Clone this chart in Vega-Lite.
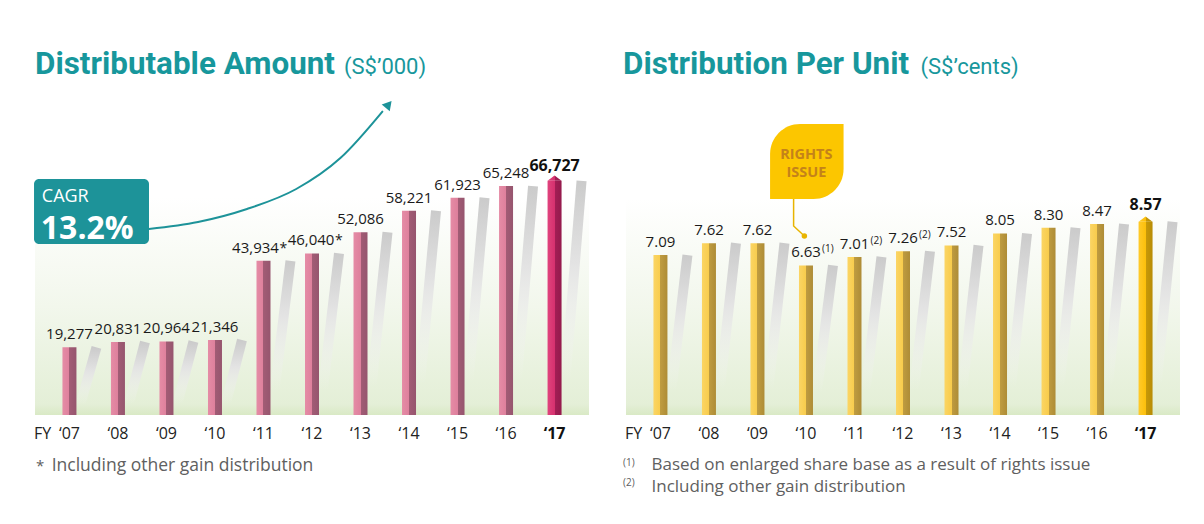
{
  "$schema": "https://vega.github.io/schema/vega-lite/v6.json",
  "background": "white",
  "padding": {"left": 30, "top": 49, "right": 0, "bottom": 8},
  "bounds": "flush",
  "spacing": 27,
  "config": {"view": {"stroke": null}, "text": {"font": "Open Sans"}},
  "datasets": {
    "amount": [
      {"fy": 2007, "label": "‘07", "value": 19277, "note": ""},
      {"fy": 2008, "label": "‘08", "value": 20831, "note": ""},
      {"fy": 2009, "label": "‘09", "value": 20964, "note": ""},
      {"fy": 2010, "label": "‘10", "value": 21346, "note": ""},
      {"fy": 2011, "label": "‘11", "value": 43934, "note": "*"},
      {"fy": 2012, "label": "‘12", "value": 46040, "note": "*"},
      {"fy": 2013, "label": "‘13", "value": 52086, "note": ""},
      {"fy": 2014, "label": "‘14", "value": 58221, "note": ""},
      {"fy": 2015, "label": "‘15", "value": 61923, "note": ""},
      {"fy": 2016, "label": "‘16", "value": 65248, "note": ""},
      {"fy": 2017, "label": "‘17", "value": 66727, "note": ""}
    ],
    "dpu": [
      {"fy": 2007, "label": "‘07", "value": 7.09, "note": ""},
      {"fy": 2008, "label": "‘08", "value": 7.62, "note": ""},
      {"fy": 2009, "label": "‘09", "value": 7.62, "note": ""},
      {"fy": 2010, "label": "‘10", "value": 6.63, "note": "(1)"},
      {"fy": 2011, "label": "‘11", "value": 7.01, "note": "(2)"},
      {"fy": 2012, "label": "‘12", "value": 7.26, "note": "(2)"},
      {"fy": 2013, "label": "‘13", "value": 7.52, "note": ""},
      {"fy": 2014, "label": "‘14", "value": 8.05, "note": ""},
      {"fy": 2015, "label": "‘15", "value": 8.30, "note": ""},
      {"fy": 2016, "label": "‘16", "value": 8.47, "note": ""},
      {"fy": 2017, "label": "‘17", "value": 8.57, "note": ""}
    ]
  },
  "hconcat": [
    {
      "width": 564,
      "height": 304,
      "data": {"name": "amount"},
      "layer": [
        {
          "data": {"values": [{}]},
          "mark": {"type": "rect", "fill": {"gradient": "linear", "x1": 0, "y1": 1, "x2": 0, "y2": 0, "stops": [{"offset": 0, "color": "#d9e9c5"}, {"offset": 0.05, "color": "#e4efd7"}, {"offset": 0.5, "color": "#f2f7ec"}, {"offset": 1, "color": "#ffffff"}]}},
          "encoding": {
            "x": {"datum": 2006.29, "type": "quantitative", "scale": {"domain": [2006.29, 2017.71], "nice": false, "zero": false}, "axis": null},
            "x2": {"datum": 2017.71},
            "y": {"datum": 0, "type": "quantitative", "scale": {"domain": [0, 86640], "nice": false}, "axis": null},
            "y2": {"datum": 62000}
          }
        },
        {
          "mark": {"type": "rule", "xOffset": 27, "x2Offset": 8, "strokeWidth": 10, "strokeCap": "butt", "stroke": {"gradient": "linear", "x1": 0, "y1": 0, "x2": 0, "y2": 1, "stops": [{"offset": 0, "color": "#cbcbcb"}, {"offset": 0.35, "color": "#e3e3e3"}, {"offset": 0.85, "color": "rgba(245,245,245,0)"}]}},
          "encoding": {
            "x": {"field": "fy", "type": "quantitative", "axis": null},
            "x2": {"field": "fy"},
            "y": {"field": "value", "type": "quantitative", "axis": null},
            "y2": {"datum": 0}
          }
        },
        {
          "transform": [{"filter": "datum.fy != 2017"}],
          "mark": {"type": "bar", "orient": "vertical", "width": 14, "fill": {"gradient": "linear", "x1": 0, "y1": 0, "x2": 1, "y2": 0, "stops": [{"offset": 0, "color": "#e58ca6"}, {"offset": 0.5, "color": "#de809c"}, {"offset": 0.5, "color": "#a25c75"}, {"offset": 1, "color": "#96556e"}]}},
          "encoding": {
            "x": {"field": "fy", "type": "quantitative", "axis": null},
            "y": {"field": "value", "type": "quantitative", "axis": null}
          }
        },
        {
          "transform": [{"filter": "datum.fy == 2017"}],
          "mark": {"type": "bar", "orient": "vertical", "width": 14, "fill": {"gradient": "linear", "x1": 0, "y1": 0, "x2": 1, "y2": 0, "stops": [{"offset": 0, "color": "#e0437d"}, {"offset": 0.5, "color": "#d6316f"}, {"offset": 0.5, "color": "#a41e56"}, {"offset": 1, "color": "#941a4c"}]}},
          "encoding": {
            "x": {"field": "fy", "type": "quantitative", "axis": null},
            "y": {"field": "value", "type": "quantitative", "axis": null}
          }
        },
        {
          "transform": [{"filter": "datum.fy == 2017"}],
          "mark": {"type": "point", "shape": "M-1,0L0,-0.75L1,0Z", "size": 196, "filled": true, "opacity": 1, "strokeWidth": 0, "fill": {"gradient": "linear", "x1": 0, "y1": 0, "x2": 1, "y2": 0, "stops": [{"offset": 0, "color": "#e0437d"}, {"offset": 0.5, "color": "#d6316f"}, {"offset": 0.5, "color": "#a41e56"}, {"offset": 1, "color": "#941a4c"}]}},
          "encoding": {
            "x": {"field": "fy", "type": "quantitative", "axis": null},
            "y": {"field": "value", "type": "quantitative", "axis": null}
          }
        },
        {
          "transform": [{"filter": "datum.fy != 2017 && datum.note == ''"}],
          "mark": {"type": "text", "baseline": "alphabetic", "dy": -8, "fontSize": 15, "color": "#1a1a1a"},
          "encoding": {
            "x": {"field": "fy", "type": "quantitative", "axis": null},
            "y": {"field": "value", "type": "quantitative", "axis": null},
            "text": {"field": "value", "type": "quantitative", "format": ","}
          }
        },
        {
          "transform": [{"filter": "datum.fy == 2011"}],
          "mark": {"type": "text", "baseline": "alphabetic", "dx": -8, "dy": -8, "fontSize": 15, "color": "#1a1a1a"},
          "encoding": {
            "x": {"field": "fy", "type": "quantitative", "axis": null},
            "y": {"field": "value", "type": "quantitative", "axis": null},
            "text": {"field": "value", "type": "quantitative", "format": ","}
          }
        },
        {
          "transform": [{"filter": "datum.fy == 2011"}],
          "mark": {"type": "text", "align": "left", "baseline": "alphabetic", "dx": 16, "dy": -8, "fontSize": 14, "color": "#1a1a1a"},
          "encoding": {
            "x": {"field": "fy", "type": "quantitative", "axis": null},
            "y": {"field": "value", "type": "quantitative", "axis": null},
            "text": {"field": "note", "type": "nominal"}
          }
        },
        {
          "transform": [{"filter": "datum.fy == 2012"}],
          "mark": {"type": "text", "baseline": "alphabetic", "dx": -1, "dy": -8, "fontSize": 15, "color": "#1a1a1a"},
          "encoding": {
            "x": {"field": "fy", "type": "quantitative", "axis": null},
            "y": {"field": "value", "type": "quantitative", "axis": null},
            "text": {"field": "value", "type": "quantitative", "format": ","}
          }
        },
        {
          "transform": [{"filter": "datum.fy == 2012"}],
          "mark": {"type": "text", "align": "left", "baseline": "alphabetic", "dx": 23, "dy": -8, "fontSize": 14, "color": "#1a1a1a"},
          "encoding": {
            "x": {"field": "fy", "type": "quantitative", "axis": null},
            "y": {"field": "value", "type": "quantitative", "axis": null},
            "text": {"field": "note", "type": "nominal"}
          }
        },
        {
          "transform": [{"filter": "datum.fy == 2017"}],
          "mark": {"type": "text", "baseline": "alphabetic", "dy": -10, "fontSize": 16, "fontWeight": "bold", "color": "#111111"},
          "encoding": {
            "x": {"field": "fy", "type": "quantitative", "axis": null},
            "y": {"field": "value", "type": "quantitative", "axis": null},
            "text": {"field": "value", "type": "quantitative", "format": ","}
          }
        },
        {
          "transform": [{"filter": "datum.fy != 2017"}],
          "mark": {"type": "text", "baseline": "alphabetic", "fontSize": 16, "color": "#222222"},
          "encoding": {
            "x": {"field": "fy", "type": "quantitative", "axis": null},
            "y": {"datum": -6755, "type": "quantitative", "axis": null},
            "text": {"field": "label", "type": "nominal"}
          }
        },
        {
          "transform": [{"filter": "datum.fy == 2017"}],
          "mark": {"type": "text", "baseline": "alphabetic", "fontSize": 16, "fontWeight": "bold", "color": "#111111"},
          "encoding": {
            "x": {"field": "fy", "type": "quantitative", "axis": null},
            "y": {"datum": -6755, "type": "quantitative", "axis": null},
            "text": {"field": "label", "type": "nominal"}
          }
        },
        {
          "data": {"values": [{}]},
          "mark": {"type": "text", "text": "FY", "align": "left", "baseline": "alphabetic", "fontSize": 16, "color": "#222222"},
          "encoding": {
            "x": {"datum": 2006.27, "type": "quantitative", "axis": null},
            "y": {"datum": -6755, "type": "quantitative", "axis": null}
          }
        },
        {
          "data": {"values": [{}]},
          "mark": {"type": "rect", "fill": "#1d9399", "cornerRadius": 5},
          "encoding": {
            "x": {"datum": 2006.27, "type": "quantitative", "axis": null},
            "x2": {"datum": 2008.64},
            "y": {"datum": 48735, "type": "quantitative", "axis": null},
            "y2": {"datum": 67260}
          }
        },
        {
          "data": {"values": [{}]},
          "mark": {"type": "text", "text": "CAGR", "align": "left", "baseline": "alphabetic", "fontSize": 18, "color": "white"},
          "encoding": {
            "x": {"datum": 2006.43, "type": "quantitative", "axis": null},
            "y": {"datum": 60700, "type": "quantitative", "axis": null}
          }
        },
        {
          "data": {"values": [{}]},
          "mark": {"type": "text", "text": "13.2%", "align": "left", "baseline": "alphabetic", "fontSize": 32, "fontWeight": "bold", "color": "white"},
          "encoding": {
            "x": {"datum": 2006.41, "type": "quantitative", "axis": null},
            "y": {"datum": 50160, "type": "quantitative", "axis": null}
          }
        },
        {
          "data": {"values": [
            {"fy": 2008.638, "value": 53010},
            {"fy": 2009.65, "value": 55005},
            {"fy": 2010.66, "value": 58710},
            {"fy": 2011.675, "value": 64410},
            {"fy": 2012.585, "value": 73245},
            {"fy": 2013.46, "value": 86640}
          ]},
          "mark": {"type": "line", "interpolate": "monotone", "color": "#1d9399", "strokeWidth": 2},
          "encoding": {
            "x": {"field": "fy", "type": "quantitative", "axis": null},
            "y": {"field": "value", "type": "quantitative", "axis": null}
          }
        },
        {
          "data": {"values": [{}]},
          "mark": {"type": "point", "shape": "triangle-up", "angle": 40, "size": 110, "filled": true, "opacity": 1, "color": "#1d9399"},
          "encoding": {
            "x": {"datum": 2013.58, "type": "quantitative", "axis": null},
            "y": {"datum": 88500, "type": "quantitative", "axis": null}
          }
        },
        {
          "data": {"values": [{}]},
          "mark": {"type": "text", "text": "Distributable Amount", "align": "left", "baseline": "alphabetic", "font": "Roboto", "fontSize": 31.4, "fontWeight": "bold", "color": "#17979c"},
          "encoding": {
            "x": {"datum": 2006.29, "type": "quantitative", "axis": null},
            "y": {"datum": 97185, "type": "quantitative", "axis": null}
          }
        },
        {
          "data": {"values": [{}]},
          "mark": {"type": "text", "text": "(S$’000)", "align": "left", "baseline": "alphabetic", "font": "Roboto", "fontSize": 22, "color": "#17979c"},
          "encoding": {
            "x": {"datum": 2012.66, "type": "quantitative", "axis": null},
            "y": {"datum": 97185, "type": "quantitative", "axis": null}
          }
        },
        {
          "data": {"values": [{}]},
          "mark": {"type": "text", "text": "*", "align": "left", "baseline": "alphabetic", "fontSize": 15, "color": "#606060"},
          "encoding": {
            "x": {"datum": 2006.31, "type": "quantitative", "axis": null},
            "y": {"datum": -15960, "type": "quantitative", "axis": null}
          }
        },
        {
          "data": {"values": [{}]},
          "mark": {"type": "text", "text": "Including other gain distribution", "align": "left", "baseline": "alphabetic", "fontSize": 17.5, "color": "#606060"},
          "encoding": {
            "x": {"datum": 2006.634, "type": "quantitative", "axis": null},
            "y": {"datum": -15960, "type": "quantitative", "axis": null}
          }
        }
      ]
    },
    {
      "width": 564,
      "height": 304,
      "data": {"name": "dpu"},
      "layer": [
        {
          "data": {"values": [{}]},
          "mark": {"type": "rect", "fill": {"gradient": "linear", "x1": 0, "y1": 1, "x2": 0, "y2": 0, "stops": [{"offset": 0, "color": "#d9e9c5"}, {"offset": 0.05, "color": "#e4efd7"}, {"offset": 0.5, "color": "#f2f7ec"}, {"offset": 1, "color": "#ffffff"}]}},
          "encoding": {
            "x": {"datum": 2006.29, "type": "quantitative", "scale": {"domain": [2006.29, 2017.71], "nice": false, "zero": false}, "axis": null},
            "x2": {"datum": 2017.71},
            "y": {"datum": 0, "type": "quantitative", "scale": {"domain": [0, 13.48], "nice": false}, "axis": null},
            "y2": {"datum": 9.6}
          }
        },
        {
          "mark": {"type": "rule", "xOffset": 27, "x2Offset": 8, "strokeWidth": 10, "strokeCap": "butt", "stroke": {"gradient": "linear", "x1": 0, "y1": 0, "x2": 0, "y2": 1, "stops": [{"offset": 0, "color": "#cbcbcb"}, {"offset": 0.35, "color": "#e3e3e3"}, {"offset": 0.85, "color": "rgba(245,245,245,0)"}]}},
          "encoding": {
            "x": {"field": "fy", "type": "quantitative", "axis": null},
            "x2": {"field": "fy"},
            "y": {"field": "value", "type": "quantitative", "axis": null},
            "y2": {"datum": 0}
          }
        },
        {
          "transform": [{"filter": "datum.fy != 2017"}],
          "mark": {"type": "bar", "orient": "vertical", "width": 14, "fill": {"gradient": "linear", "x1": 0, "y1": 0, "x2": 1, "y2": 0, "stops": [{"offset": 0, "color": "#fbd564"}, {"offset": 0.5, "color": "#f8cc4c"}, {"offset": 0.5, "color": "#bf9c40"}, {"offset": 1, "color": "#ae8c36"}]}},
          "encoding": {
            "x": {"field": "fy", "type": "quantitative", "axis": null},
            "y": {"field": "value", "type": "quantitative", "axis": null}
          }
        },
        {
          "transform": [{"filter": "datum.fy == 2017"}],
          "mark": {"type": "bar", "orient": "vertical", "width": 14, "fill": {"gradient": "linear", "x1": 0, "y1": 0, "x2": 1, "y2": 0, "stops": [{"offset": 0, "color": "#ffca2a"}, {"offset": 0.5, "color": "#fcc00c"}, {"offset": 0.5, "color": "#c89a08"}, {"offset": 1, "color": "#b88c06"}]}},
          "encoding": {
            "x": {"field": "fy", "type": "quantitative", "axis": null},
            "y": {"field": "value", "type": "quantitative", "axis": null}
          }
        },
        {
          "transform": [{"filter": "datum.fy == 2017"}],
          "mark": {"type": "point", "shape": "M-1,0L0,-0.75L1,0Z", "size": 196, "filled": true, "opacity": 1, "strokeWidth": 0, "fill": {"gradient": "linear", "x1": 0, "y1": 0, "x2": 1, "y2": 0, "stops": [{"offset": 0, "color": "#ffca2a"}, {"offset": 0.5, "color": "#fcc00c"}, {"offset": 0.5, "color": "#c89a08"}, {"offset": 1, "color": "#b88c06"}]}},
          "encoding": {
            "x": {"field": "fy", "type": "quantitative", "axis": null},
            "y": {"field": "value", "type": "quantitative", "axis": null}
          }
        },
        {
          "transform": [{"filter": "datum.fy != 2017"}],
          "mark": {"type": "text", "baseline": "alphabetic", "dy": -8, "fontSize": 15, "color": "#1a1a1a"},
          "encoding": {
            "x": {"field": "fy", "type": "quantitative", "axis": null},
            "y": {"field": "value", "type": "quantitative", "axis": null},
            "text": {"field": "value", "type": "quantitative", "format": ".2f"}
          }
        },
        {
          "transform": [{"filter": "datum.note != ''"}],
          "mark": {"type": "text", "align": "left", "baseline": "alphabetic", "dx": 16, "dy": -13, "fontSize": 10, "color": "#1a1a1a"},
          "encoding": {
            "x": {"field": "fy", "type": "quantitative", "axis": null},
            "y": {"field": "value", "type": "quantitative", "axis": null},
            "text": {"field": "note", "type": "nominal"}
          }
        },
        {
          "transform": [{"filter": "datum.fy == 2017"}],
          "mark": {"type": "text", "baseline": "alphabetic", "dy": -12, "fontSize": 16, "fontWeight": "bold", "color": "#111111"},
          "encoding": {
            "x": {"field": "fy", "type": "quantitative", "axis": null},
            "y": {"field": "value", "type": "quantitative", "axis": null},
            "text": {"field": "value", "type": "quantitative", "format": ".2f"}
          }
        },
        {
          "transform": [{"filter": "datum.fy != 2017"}],
          "mark": {"type": "text", "baseline": "alphabetic", "fontSize": 16, "color": "#222222"},
          "encoding": {
            "x": {"field": "fy", "type": "quantitative", "axis": null},
            "y": {"datum": -1.051, "type": "quantitative", "axis": null},
            "text": {"field": "label", "type": "nominal"}
          }
        },
        {
          "transform": [{"filter": "datum.fy == 2017"}],
          "mark": {"type": "text", "baseline": "alphabetic", "fontSize": 16, "fontWeight": "bold", "color": "#111111"},
          "encoding": {
            "x": {"field": "fy", "type": "quantitative", "axis": null},
            "y": {"datum": -1.051, "type": "quantitative", "axis": null},
            "text": {"field": "label", "type": "nominal"}
          }
        },
        {
          "data": {"values": [{}]},
          "mark": {"type": "text", "text": "FY", "align": "left", "baseline": "alphabetic", "fontSize": 16, "color": "#222222"},
          "encoding": {
            "x": {"datum": 2006.27, "type": "quantitative", "axis": null},
            "y": {"datum": -1.051, "type": "quantitative", "axis": null}
          }
        },
        {
          "data": {"values": [{}]},
          "mark": {"type": "rect", "fill": "#fcc600", "cornerRadiusTopLeft": 30, "cornerRadiusBottomRight": 30},
          "encoding": {
            "x": {"datum": 2009.26, "type": "quantitative", "axis": null},
            "x2": {"datum": 2010.775},
            "y": {"datum": 9.58, "type": "quantitative", "axis": null},
            "y2": {"datum": 12.9}
          }
        },
        {
          "data": {"values": [{}]},
          "mark": {"type": "text", "text": "RIGHTS", "align": "center", "baseline": "alphabetic", "fontSize": 14.5, "fontWeight": "bold", "color": "#c4821a"},
          "encoding": {
            "x": {"datum": 2010.007, "type": "quantitative", "axis": null},
            "y": {"datum": 11.33, "type": "quantitative", "axis": null}
          }
        },
        {
          "data": {"values": [{}]},
          "mark": {"type": "text", "text": "ISSUE", "align": "center", "baseline": "alphabetic", "fontSize": 14.5, "fontWeight": "bold", "color": "#c4821a"},
          "encoding": {
            "x": {"datum": 2010.007, "type": "quantitative", "axis": null},
            "y": {"datum": 10.55, "type": "quantitative", "axis": null}
          }
        },
        {
          "data": {"values": [
            {"fy": 2009.745, "value": 9.58},
            {"fy": 2009.745, "value": 8.38},
            {"fy": 2009.967, "value": 7.94}
          ]},
          "mark": {"type": "line", "color": "#e8b400", "strokeWidth": 1.5},
          "encoding": {
            "x": {"field": "fy", "type": "quantitative", "axis": null},
            "y": {"field": "value", "type": "quantitative", "axis": null}
          }
        },
        {
          "data": {"values": [{}]},
          "mark": {"type": "point", "shape": "circle", "size": 30, "filled": true, "opacity": 1, "color": "#e8b400"},
          "encoding": {
            "x": {"datum": 2009.967, "type": "quantitative", "axis": null},
            "y": {"datum": 7.94, "type": "quantitative", "axis": null}
          }
        },
        {
          "data": {"values": [{}]},
          "mark": {"type": "text", "text": "Distribution Per Unit", "align": "left", "baseline": "alphabetic", "font": "Roboto", "fontSize": 31.4, "fontWeight": "bold", "color": "#17979c"},
          "encoding": {
            "x": {"datum": 2006.23, "type": "quantitative", "axis": null},
            "y": {"datum": 15.12, "type": "quantitative", "axis": null}
          }
        },
        {
          "data": {"values": [{}]},
          "mark": {"type": "text", "text": "(S$’cents)", "align": "left", "baseline": "alphabetic", "font": "Roboto", "fontSize": 22, "color": "#17979c"},
          "encoding": {
            "x": {"datum": 2012.36, "type": "quantitative", "axis": null},
            "y": {"datum": 15.12, "type": "quantitative", "axis": null}
          }
        },
        {
          "data": {"values": [{}]},
          "mark": {"type": "text", "text": "(1)", "align": "left", "baseline": "alphabetic", "fontSize": 10, "color": "#606060"},
          "encoding": {
            "x": {"datum": 2006.23, "type": "quantitative", "axis": null},
            "y": {"datum": -2.26, "type": "quantitative", "axis": null}
          }
        },
        {
          "data": {"values": [{}]},
          "mark": {"type": "text", "text": "(2)", "align": "left", "baseline": "alphabetic", "fontSize": 10, "color": "#606060"},
          "encoding": {
            "x": {"datum": 2006.23, "type": "quantitative", "axis": null},
            "y": {"datum": -3.15, "type": "quantitative", "axis": null}
          }
        },
        {
          "data": {"values": [{}]},
          "mark": {"type": "text", "text": "Based on enlarged share base as a result of rights issue", "align": "left", "baseline": "alphabetic", "fontSize": 17, "color": "#606060"},
          "encoding": {
            "x": {"datum": 2006.815, "type": "quantitative", "axis": null},
            "y": {"datum": -2.44, "type": "quantitative", "axis": null}
          }
        },
        {
          "data": {"values": [{}]},
          "mark": {"type": "text", "text": "Including other gain distribution", "align": "left", "baseline": "alphabetic", "fontSize": 17, "color": "#606060"},
          "encoding": {
            "x": {"datum": 2006.815, "type": "quantitative", "axis": null},
            "y": {"datum": -3.42, "type": "quantitative", "axis": null}
          }
        }
      ]
    }
  ]
}
